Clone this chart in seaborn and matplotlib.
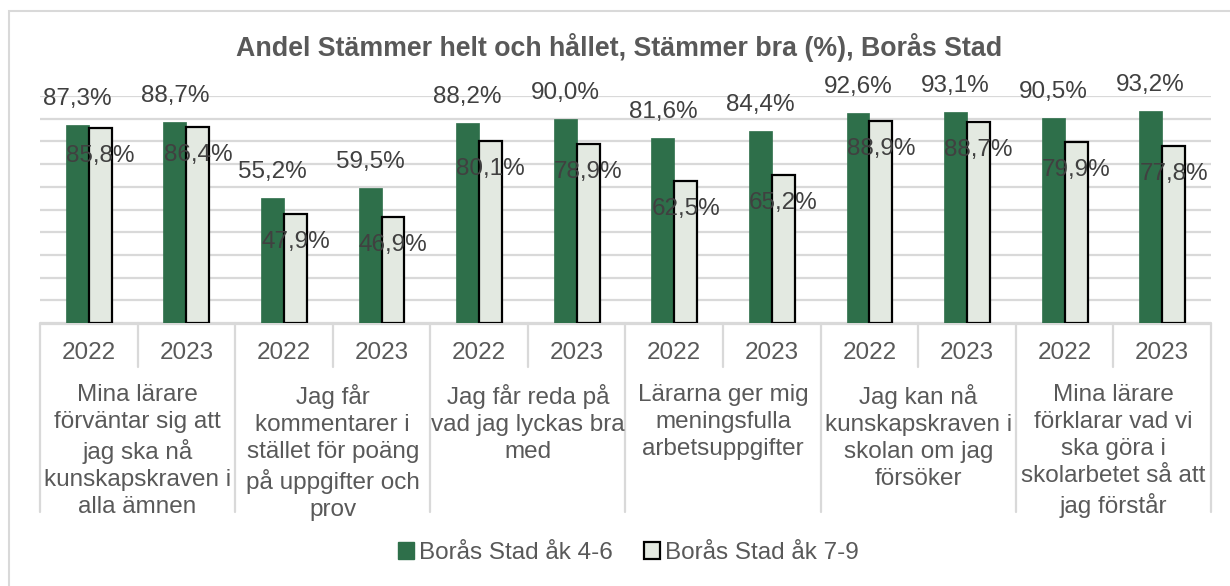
import pandas as pd
import matplotlib
matplotlib.use("Agg")
import matplotlib.pyplot as plt
import matplotlib.transforms as mtransforms
from matplotlib.patches import Patch, Rectangle
import seaborn as sns

# data
questions = [
    "Mina lärare\nförväntar sig att\njag ska nå\nkunskapskraven i\nalla ämnen",
    "Jag får\nkommentarer i\nstället för poäng\npå uppgifter och\nprov",
    "Jag får reda på\nvad jag lyckas bra\nmed",
    "Lärarna ger mig\nmeningsfulla\narbetsuppgifter",
    "Jag kan nå\nkunskapskraven i\nskolan om jag\nförsöker",
    "Mina lärare\nförklarar vad vi\nska göra i\nskolarbetet så att\njag förstår",
]
years = ["2022", "2023"]
series = ["Borås Stad åk 4-6", "Borås Stad åk 7-9"]
ak46 = [87.3, 88.7, 55.2, 59.5, 88.2, 90.0, 81.6, 84.4, 92.6, 93.1, 90.5, 93.2]
ak79 = [85.8, 86.4, 47.9, 46.9, 80.1, 78.9, 62.5, 65.2, 88.9, 88.7, 79.9, 77.8]

GREEN = "#2E6F4A"
LIGHT = "#E3E9E1"
GRID = "#D9D9D9"
TXT = "#595959"
LBL = "#404040"
FS = 17.5

W, H = 1230, 586
DPI = 100

positions = [f"{q}|{y}" for q in range(len(questions)) for y in years]
df = pd.DataFrame({
    "pos": positions * 2,
    "serie": [series[0]] * len(ak46) + [series[1]] * len(ak79),
    "value": ak46 + ak79,
})

sns.set_style("white")
plt.rcParams["font.family"] = ["Liberation Sans", "DejaVu Sans"]

fig = plt.figure(figsize=(W / DPI, H / DPI), dpi=DPI)
ax = fig.add_axes([40 / W, 1 - 323 / H, (1211 - 40) / W, (323 - 96) / H])

sns.barplot(data=df, x="pos", y="value", hue="serie", order=positions,
            hue_order=series, palette=[GREEN, LIGHT], width=0.47,
            saturation=1, legend=False, ax=ax, zorder=3)

ax.set_ylim(0, 100)
ax.set_xlim(-0.5, len(positions) - 0.5)
ax.set_yticks(range(0, 101, 10))
ax.yaxis.grid(True, color=GRID, lw=1.6, zorder=0)
ax.set_axisbelow(True)
ax.set_xticks([])
ax.set_yticklabels([])
ax.tick_params(left=False, bottom=False)
ax.set_xlabel("")
ax.set_ylabel("")
for s in ax.spines.values():
    s.set_visible(False)

# edges: green none, light bars black outline
for b in ax.containers[0]:
    b.set_edgecolor(GREEN)
    b.set_linewidth(0.5)
for b in ax.containers[1]:
    b.set_edgecolor("black")
    b.set_linewidth(1.6)

# data labels
for b in ax.containers[0]:
    ax.annotate(f"{b.get_height():.1f}%".replace(".", ","),
                (b.get_x() + b.get_width() / 2, b.get_height()),
                xytext=(0, 26), textcoords="offset pixels", ha="center",
                va="center", fontsize=FS, color=LBL, zorder=5)
for b in ax.containers[1]:
    ax.annotate(f"{b.get_height():.1f}%".replace(".", ","),
                (b.get_x() + b.get_width() / 2, b.get_height()),
                xytext=(0, -28), textcoords="offset pixels", ha="center",
                va="center", fontsize=FS, color=LBL, zorder=5)

# multi-level category table below the plot
tr = mtransforms.blended_transform_factory(ax.transData, fig.transFigure)
fy = lambda py: 1 - py / H
ax.plot([-0.5, len(positions) - 0.5], [fy(323.5)] * 2, color=GRID, lw=1.6,
        transform=tr, clip_on=False)
for i in range(len(positions) + 1):
    bottom = 512 if i % 2 == 0 else 367
    ax.plot([i - 0.5, i - 0.5], [fy(323), fy(bottom)], color=GRID, lw=1.6,
            transform=tr, clip_on=False)
for i, p in enumerate(positions):
    ax.text(i, fy(353), p.split("|")[1], ha="center", va="center",
            fontsize=FS, color=TXT, transform=tr)
for q, label in enumerate(questions):
    ax.text(2 * q + 0.5, fy(384), label, ha="center", va="top",
            fontsize=FS, color=TXT, linespacing=1.29, transform=tr)

fig.text(0.503, fy(47), "Andel Stämmer helt och hållet, Stämmer bra (%), Borås Stad",
         ha="center", va="center", fontsize=19.3, fontweight="bold", color=TXT)

handles = [Patch(facecolor=GREEN, edgecolor=GREEN),
           Patch(facecolor=LIGHT, edgecolor="black", linewidth=1.6)]
fig.legend(handles, series, loc="center", bbox_to_anchor=(0.511, fy(553)),
           ncol=2, frameon=False, fontsize=FS, handlelength=0.65,
           handleheight=0.65, handletextpad=0.2, columnspacing=1.3,
           labelcolor=TXT)

fig.add_artist(Rectangle((9 / W, 0 - 0.05), 1.1, fy(11) + 0.05,
                         transform=fig.transFigure, fill=False,
                         edgecolor=GRID, lw=1.5, clip_on=False))

fig.savefig("out.png", dpi=DPI)
